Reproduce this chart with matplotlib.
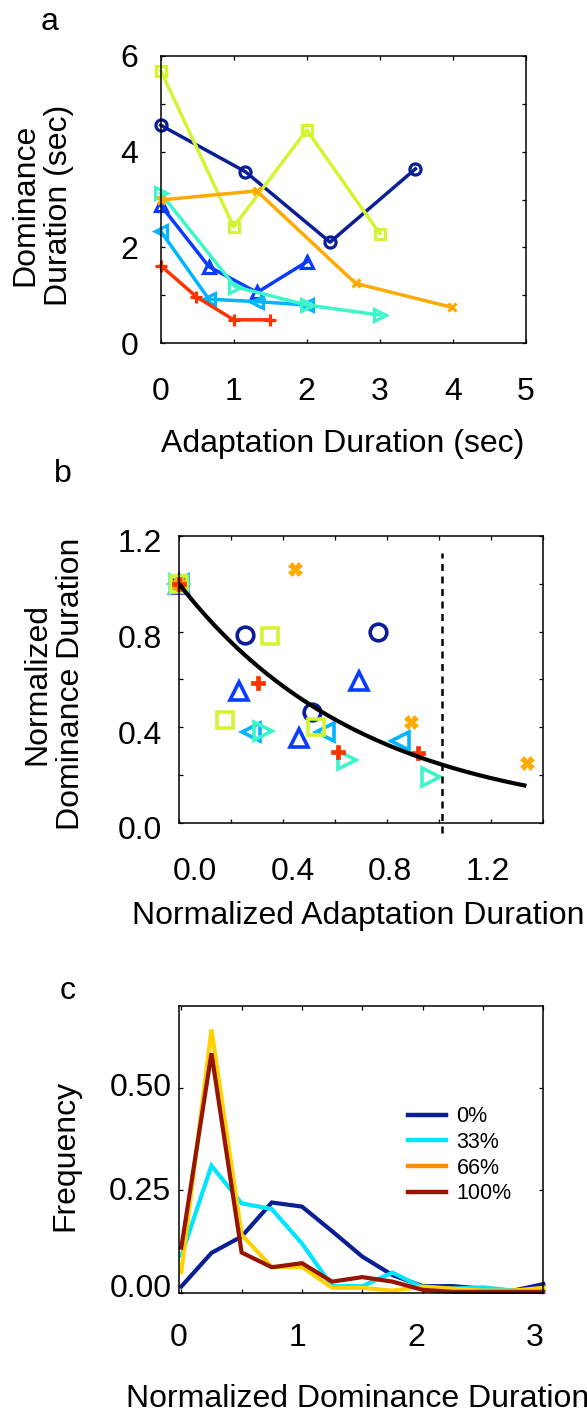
import numpy as np
import matplotlib
matplotlib.use("Agg")
import matplotlib.pyplot as plt
from matplotlib.lines import Line2D
from matplotlib.transforms import ScaledTranslation

plt.rcParams['font.family'] = ['Liberation Sans', 'DejaVu Sans']

# ---------------- data: panel a ----------------
a_x_circle = [0, 1.16, 2.32, 3.49]
a_y_circle = [4.55, 3.58, 2.11, 3.64]
a_x_up = [0, 0.66, 1.32, 2.0]
a_y_up = [2.88, 1.60, 1.06, 1.70]
a_x_left = [0, 0.66, 1.32, 2.0]
a_y_left = [2.34, 0.92, 0.87, 0.80]
a_x_right = [0, 1.02, 2.0, 3.0]
a_y_right = [3.13, 1.18, 0.80, 0.59]
a_x_square = [0, 1.0, 2.0, 3.0]
a_y_square = [5.69, 2.43, 4.45, 2.29]
a_x_cross = [0, 1.315, 2.67, 3.99]
a_y_cross = [2.99, 3.18, 1.25, 0.75]
a_x_plus = [0, 0.49, 1.0, 1.5]
a_y_plus = [1.62, 0.97, 0.49, 0.49]

# ---------------- data: panel b ----------------
b_x_circle = [0, 0.255, 0.51, 0.766]
b_y_circle = [1.0, 0.786, 0.462, 0.797]
b_x_up = [0, 0.229, 0.461, 0.691]
b_y_up = [1.0, 0.551, 0.356, 0.593]
b_x_left = [0, 0.277, 0.561, 0.849]
b_y_left = [1.0, 0.378, 0.378, 0.342]
b_x_right = [0, 0.324, 0.647, 0.968]
b_y_right = [1.0, 0.384, 0.262, 0.19]
b_x_square = [0, 0.175, 0.35, 0.525]
b_y_square = [1.0, 0.428, 0.78, 0.40]
b_x_cross = [0, 0.446, 0.891, 1.338]
b_y_cross = [1.0, 1.062, 0.42, 0.248]
b_x_plus = [0, 0.305, 0.612, 0.917]
b_y_plus = [1.0, 0.585, 0.297, 0.29]
fit_decay_rate = 1.4          # exponential fit y = exp(-k x)
fit_x_max = 1.335
criterion_x = 1.01            # dashed reference line

# ---------------- data: panel c ----------------
c_bins = [0, 0.25, 0.5, 0.75, 1.0, 1.25, 1.5, 1.75, 2.0, 2.25, 2.5, 2.75, 3.0]
c_freq_0 = [0.015, 0.097, 0.137, 0.220, 0.210, 0.150, 0.088, 0.043, 0.016, 0.016, 0.010, 0.005, 0.021]
c_freq_33 = [0.090, 0.310, 0.218, 0.204, 0.120, 0.016, 0.016, 0.049, 0.013, 0.010, 0.013, 0.005, 0.008]
c_freq_66 = [0.050, 0.642, 0.141, 0.063, 0.063, 0.012, 0.012, 0.005, 0.015, 0.010, 0.005, 0.005, 0.012]
c_freq_100 = [0.110, 0.584, 0.098, 0.062, 0.072, 0.027, 0.038, 0.027, 0.007, 0.002, 0.002, 0.002, 0.002]
c_labels = ['0%', '33%', '66%', '100%']

# ---------------- styles ----------------
C_DBLUE = '#0A1E96'
C_BLUE = '#0A3CFF'
C_LBLUE = '#00B4FF'
C_TURQ = '#3CF5C8'
C_YGREEN = '#D2F532'
C_ORANGE = '#FFAA00'
C_RED = '#FF3200'

FS = 23
W, H = 587, 1416
fig = plt.figure(figsize=(W / 100, H / 100), dpi=100)


def axes_px(left, top, right, bottom):
    return fig.add_axes([left / W, 1 - bottom / H, (right - left) / W, (bottom - top) / H])


def fpx(x, y):
    return x / W, 1 - y / H


def style_axes(ax):
    for s in ax.spines.values():
        s.set_linewidth(1.1)
    ax.tick_params(which='both', direction='in', top=True, right=True,
                   length=3, width=0.9, labelsize=FS)


# ================= panel a =================
axa = axes_px(160.7, 55.7, 525.7, 343.3)
style_axes(axa)
series_a = [
    (a_x_circle, a_y_circle, C_DBLUE, 'o', 8),
    (a_x_up, a_y_up, C_BLUE, '^', 9),
    (a_x_left, a_y_left, C_LBLUE, '<', 9),
    (a_x_right, a_y_right, C_TURQ, '>', 9),
    (a_x_square, a_y_square, C_YGREEN, 's', 7),
    (a_x_cross, a_y_cross, C_ORANGE, 'x', 6),
    (a_x_plus, a_y_plus, C_RED, '+', 8),
]
for xs, ys, c, m, ms in series_a:
    axa.plot(xs, ys, color=c, lw=2.5, marker=m, ms=ms, mfc='none', mec=c,
             mew=2.3, clip_on=False)
axa.set_xlim(0, 5)
axa.set_ylim(0, 6)
axa.set_xticks(range(0, 6))
axa.set_yticks(range(0, 7))
axa.set_yticklabels(['0', '', '2', '', '4', '', '6'])
axa.tick_params(axis='x', pad=24)
axa.tick_params(axis='y', pad=16)
fig.text(*fpx(50, 22), 'a', fontsize=FS, ha='center', va='center')
fig.text(*fpx(42, 205), 'Dominance\nDuration (sec)', fontsize=FS, rotation=90,
         ha='center', va='center', multialignment='center', linespacing=1.15)
fig.text(*fpx(343, 444), 'Adaptation Duration (sec)', fontsize=FS,
         ha='center', va='center')

# ================= panel b =================
axb = axes_px(179, 536, 543.3, 822.7)
style_axes(axb)
series_b = [
    (b_x_circle, b_y_circle, C_DBLUE, 'o', 12, True),
    (b_x_up, b_y_up, C_BLUE, '^', 13, True),
    (b_x_left, b_y_left, C_LBLUE, '<', 13, True),
    (b_x_right, b_y_right, C_TURQ, '>', 13, True),
    (b_x_square, b_y_square, C_YGREEN, 's', 11, True),
    (b_x_cross, b_y_cross, C_ORANGE, 'X', 10, False),
    (b_x_plus, b_y_plus, C_RED, 'P', 10, False),
]
for xs, ys, c, m, ms, hollow in series_b:
    axb.plot(xs, ys, ls='none', marker=m, ms=ms,
             mfc='none' if hollow else c, mec=c, mew=2.6 if hollow else 0.5,
             clip_on=False)
fit_x = np.linspace(0, fit_x_max, 200)
axb.plot(fit_x, np.exp(-fit_decay_rate * fit_x), color='black', lw=3,
         solid_capstyle='butt')
axb.plot([criterion_x, criterion_x], [-0.045, 1.13], color='black', lw=1.8,
         dashes=(2.8, 2.2), clip_on=False)
axb.set_xlim(0, 1.4)
axb.set_ylim(0, 1.2)
# tick marks every 0.2; labels placed where the figure shows them
axb.set_xticks(np.arange(0, 1.41, 0.2), minor=True)
axb.set_xticks([0.06, 0.436, 0.812, 1.188])
axb.set_xticklabels(['0.0', '0.4', '0.8', '1.2'])
axb.tick_params(axis='x', which='major', length=0, pad=24.5)
axb.set_yticks(np.arange(0, 1.21, 0.2))
axb.set_yticklabels(['0.0', '', '0.4', '', '0.8', '', '1.2'])
axb.tick_params(axis='y', pad=12.5)
for lab in axb.get_yticklabels():
    lab.set_transform(lab.get_transform() + ScaledTranslation(0, -5 / 100, fig.dpi_scale_trans))
fig.text(*fpx(63, 474), 'b', fontsize=FS, ha='center', va='center')
fig.text(*fpx(54, 684), 'Normalized\nDominance Duration', fontsize=FS, rotation=90,
         ha='center', va='center', multialignment='center', linespacing=1.15)
fig.text(*fpx(358, 916), 'Normalized Adaptation Duration', fontsize=FS,
         ha='center', va='center')

# ================= panel c =================
axc = axes_px(179, 1005.7, 543.3, 1292.7)
style_axes(axc)
c_colors = [C_DBLUE, '#00E5FF', '#FFD200', '#961400']
legend_colors = [C_DBLUE, '#00E5FF', '#FF8C00', '#961400']
for ys, c in zip([c_freq_0, c_freq_33, c_freq_66, c_freq_100], c_colors):
    axc.plot(c_bins, ys, color=c, lw=3, solid_joinstyle='miter', clip_on=False)
axc.set_xlim(0, 3)
axc.set_ylim(0, 0.70)
axc.set_xticks(np.arange(0, 3.01, 0.5), minor=True)
axc.set_xticks([-0.019, 0.96, 1.95, 2.93])
axc.set_xticklabels(['0', '1', '2', '3'])
axc.tick_params(axis='x', which='major', length=0, pad=22)
axc.set_yticks([0, 0.25, 0.5], minor=True)
axc.set_yticks([0.017, 0.255, 0.507])
axc.set_yticklabels(['0.00', '0.25', '0.50'])
axc.tick_params(axis='y', which='major', length=0, pad=5.5)
handles = [Line2D([0], [0], color=c, lw=3.2) for c in legend_colors]
axc.legend(handles, c_labels, loc='upper left', bbox_to_anchor=(0.605, 0.68),
           frameon=False, fontsize=15.5, handlelength=1.75, handletextpad=0.5,
           labelspacing=0.22, borderaxespad=0)
fig.text(*fpx(68, 991), 'c', fontsize=FS, ha='center', va='center')
fig.text(*fpx(65, 1155), 'Frequency', fontsize=FS, rotation=90,
         ha='center', va='center')
fig.text(*fpx(358, 1399), 'Normalized Dominance Duration', fontsize=FS,
         ha='center', va='center')

fig.savefig('out.png', dpi=100)
